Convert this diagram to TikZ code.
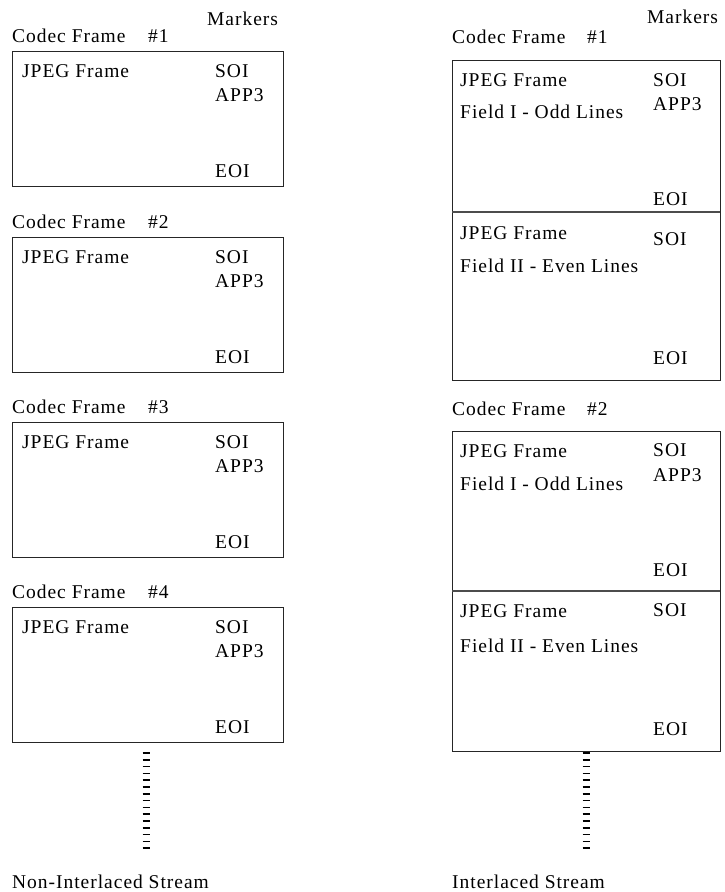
\documentclass[tikz,border=0pt]{standalone}
\usepackage{fontspec}
\setmainfont{Liberation Serif}[LetterSpace=5]
\begin{document}
\begin{tikzpicture}[x=1pt,y=-1pt,
  txt/.style={anchor=base west,inner sep=0pt,font=\fontsize{19.5}{22}\selectfont},
  frame/.style={draw=black!85,line width=1.1pt,anchor=north west,inner sep=0pt},
  divline/.style={draw=black!70,line width=1.1pt},
  tick/.style={line width=1.6pt}]
\useasboundingbox (0,0) rectangle (724,892);
% ---------- left column: non-interlaced ----------
\node[txt] (mk1) at (207,25) {Markers};
\foreach \i/\t in {1/51,2/237,3/422,4/607}{
  \node[frame,minimum width=271pt,minimum height=135pt] (lb\i) at (12,\t) {};
  \node[txt] (lt\i) at (12,\t-9) {Codec Frame};
  \node[txt] (ln\i) at (148,\t-9) {\#\i};
  \node[txt] (lj\i) at (22,\t+26) {JPEG Frame};
  \node[txt] (ls\i) at (215,\t+26) {SOI};
  \node[txt] (la\i) at (215,\t+50) {APP3};
  \node[txt] (le\i) at (215,\t+126) {EOI};
}
\foreach \k in {0,...,14}{
  \draw[tick] (142.5,753+\k*6.8) -- (149.5,753+\k*6.8);
}
\node[txt] (ls) at (12,888) {Non-Interlaced Stream};
% ---------- right column: interlaced ----------
\node[txt] (mk2) at (647,23) {Markers};
% frame 1
\node[frame,minimum width=268pt,minimum height=320pt] (rb1) at (452,60) {};
\coordinate (d1l) at (452,212);
\coordinate (d1r) at (720,212);
\draw[divline] (d1l) -- (d1r);
\node[txt] (rt1) at (452,43) {Codec Frame};
\node[txt] (rn1) at (587,43) {\#1};
\node[txt] (rj1a) at (460,86) {JPEG Frame};
\node[txt] (rf1a) at (460,118) {Field I - Odd Lines};
\node[txt] (rs1a) at (653,86) {SOI};
\node[txt] (ra1a) at (653,110) {APP3};
\node[txt] (re1a) at (653,205) {EOI};
\node[txt] (rj1b) at (460,239) {JPEG Frame};
\node[txt] (rf1b) at (460,272) {Field II - Even Lines};
\node[txt] (rs1b) at (653,245) {SOI};
\node[txt] (re1b) at (653,364) {EOI};
% frame 2
\node[frame,minimum width=268pt,minimum height=320pt] (rb2) at (452,431) {};
\coordinate (d2l) at (452,591);
\coordinate (d2r) at (720,591);
\draw[divline] (d2l) -- (d2r);
\node[txt] (rt2) at (452,415) {Codec Frame};
\node[txt] (rn2) at (587,415) {\#2};
\node[txt] (rj2a) at (460,457) {JPEG Frame};
\node[txt] (rf2a) at (460,490) {Field I - Odd Lines};
\node[txt] (rs2a) at (653,456) {SOI};
\node[txt] (ra2a) at (653,481) {APP3};
\node[txt] (re2a) at (653,576) {EOI};
\node[txt] (rj2b) at (460,617) {JPEG Frame};
\node[txt] (rf2b) at (460,652) {Field II - Even Lines};
\node[txt] (rs2b) at (653,616) {SOI};
\node[txt] (re2b) at (653,735) {EOI};
\foreach \k in {0,...,14}{
  \draw[tick] (582.5,753+\k*6.8) -- (589.5,753+\k*6.8);
}
\node[txt] (rs) at (452,888) {Interlaced Stream};
\end{tikzpicture}
\end{document}
